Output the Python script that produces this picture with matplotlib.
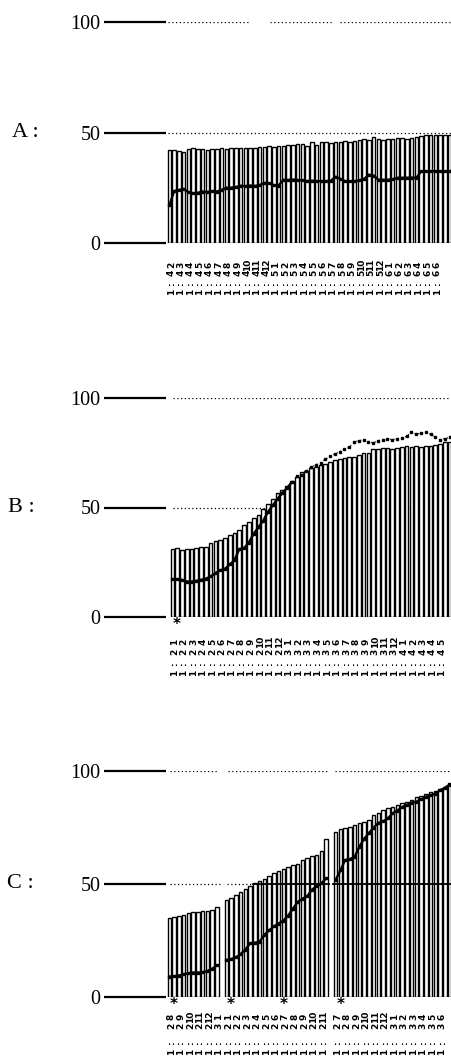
import matplotlib
matplotlib.use("Agg")
import matplotlib.pyplot as plt
from matplotlib.transforms import blended_transform_factory

W, H = 452, 1061

# ---------------- data ----------------
yticks = [0, 50, 100]
panel_names = ["A :", "B :", "C :"]

a_bars = [42.3, 42.0, 41.5, 41.0, 42.5, 42.8, 42.5, 42.5, 42.3, 42.6,
          42.5, 42.8, 42.5, 42.8, 43.0, 43.0, 42.8, 43.2, 43.0, 43.5,
          43.3, 43.8, 43.5, 44.0, 44.0, 44.3, 44.5, 44.8, 45.0, 44.0,
          45.5, 44.5, 45.6, 45.5, 45.3, 45.8, 45.5, 46.0, 45.8, 46.2,
          46.5, 47.0, 46.8, 48.0, 47.0, 46.8, 47.2, 47.0, 47.3, 47.5,
          47.2, 47.5, 47.8, 48.6, 48.8, 48.7, 48.8, 49.0, 48.8, 49.0]
a_line = [17.0, 23.5, 24.0, 24.5, 23.0, 22.5, 22.7, 23.3, 23.0, 23.5,
          23.3, 24.0, 25.0, 25.0, 25.3, 25.9, 25.7, 26.0, 25.8, 26.2,
          27.2, 27.0, 26.2, 26.0, 28.6, 28.5, 28.7, 28.5, 28.3, 28.0,
          28.2, 28.0, 28.0, 28.0, 28.2, 30.0, 29.0, 28.0, 27.9, 28.0,
          28.3, 29.0, 30.9, 30.5, 28.6, 28.6, 28.6, 28.8, 29.5, 29.5,
          29.5, 29.6, 29.5, 32.4, 32.4, 32.5, 32.4, 32.5, 32.4, 32.5]

b_bars = [31.0, 31.5, 30.8, 31.2, 31.2, 31.5, 31.8, 32.0, 34.0, 34.5,
          35.0, 36.0, 37.4, 38.5, 39.5, 42.0, 43.5, 45.0, 46.5, 49.5,
          51.5, 54.0, 56.5, 58.0, 60.0, 62.0, 64.0, 66.0, 66.5, 68.0,
          68.5, 69.4, 70.0, 71.0, 71.5, 72.0, 72.6, 73.0, 73.2, 74.0,
          74.8, 75.0, 76.5, 76.5, 77.0, 77.0, 76.5, 77.0, 77.5, 78.0,
          77.5, 78.0, 77.5, 78.0, 78.0, 78.5, 79.0, 80.0, 80.0]
b_line = [17.3, 17.3, 17.0, 16.2, 16.2, 16.5, 17.0, 17.5, 18.5, 20.0,
          21.3, 22.0, 24.0, 26.0, 31.0, 31.5, 34.0, 38.0, 41.0, 44.0,
          48.0, 51.0, 54.0, 56.5, 59.0, 61.5]
b_upper_start = 26
b_upper = [64.5, 65.0, 66.5, 68.5, 69.5, 70.5, 72.0, 73.5, 74.5, 75.5,
           76.5, 77.5, 80.0, 80.5, 81.0, 80.0, 79.5, 80.5, 81.0, 81.5,
           81.0, 81.5, 81.8, 82.5, 84.5, 83.5, 84.0, 84.5, 83.5, 82.0,
           81.0, 81.5, 82.0]

c_group_start = [0, 12, 35]
c_bars = [
    [35.1, 35.5, 36.0, 36.5, 37.0, 37.5, 37.5, 38.0, 38.0, 38.5, 40.0],
    [43.0, 44.0, 45.0, 46.5, 48.0, 49.0, 50.5, 51.5, 52.2, 53.5, 54.7,
     55.8, 56.5, 57.5, 58.5, 59.0, 60.5, 61.4, 62.3, 63.0, 64.5, 70.0],
    [73.0, 74.5, 75.0, 75.4, 76.0, 77.0, 77.5, 78.5, 80.5, 81.5, 82.7,
     83.5, 84.0, 85.0, 85.7, 86.5, 87.2, 88.5, 89.0, 90.0, 90.5, 91.0,
     92.0, 93.0, 94.5],
]
c_line = [
    [9.0, 9.2, 9.5, 10.0, 10.5, 10.8, 10.8, 11.0, 11.5, 12.5, 14.0],
    [16.4, 16.8, 17.5, 19.0, 21.0, 23.7, 24.0, 24.5, 27.5, 29.5, 31.2,
     32.5, 33.8, 36.0, 39.0, 42.0, 43.5, 44.5, 47.5, 49.0, 50.3, 52.5],
    [51.8, 56.0, 60.6, 61.0, 62.0, 66.5, 70.0, 72.5, 75.0, 77.0, 77.7,
     79.0, 81.3, 82.5, 84.0, 85.0, 86.0, 86.4, 87.5, 88.6, 89.3, 90.0,
     91.5, 92.5, 94.0],
]

b_marks = [1]
c_marks = [1, 13, 24, 36]

a_months = [2, 3, 4, 5, 6, 7, 8, 9, 10, 11, 12, 1, 2, 3, 4, 5, 6, 7, 8, 9,
            10, 11, 12, 1, 2, 3, 4, 5, 6]
a_years = [4] * 11 + [5] * 12 + [6] * 6
b_months = [1, 2, 3, 4, 5, 6, 7, 8, 9, 10, 11, 12, 1, 2, 3, 4, 5, 6, 7, 8,
            9, 10, 11, 12, 1, 2, 3, 4, 5]
b_years = [2] * 12 + [3] * 12 + [4] * 5
c_months = [[8, 9, 10, 11, 12, 1],
            [1, 2, 3, 4, 5, 6, 7, 8, 9, 10, 11],
            [7, 8, 9, 10, 11, 12, 1, 2, 3, 4, 5, 6]]
c_years = [[2, 2, 2, 2, 2, 3],
           [2, 2, 2, 2, 2, 2, 2, 2, 2, 2, 2],
           [2, 2, 2, 2, 2, 2, 3, 3, 3, 3, 3, 3]]

# ---------------- style / layout ----------------
plt.rcParams['font.family'] = ['Liberation Serif', 'DejaVu Serif']
fig = plt.figure(figsize=(W / 100, H / 100), dpi=100)

AX_LEFT = 166
panels = [
    dict(y0=243, y100=22, first=167, pitch=4.75, name_x=12),
    dict(y0=617, y100=398, first=170, pitch=4.78, name_x=8),
    dict(y0=997, y100=771, first=167, pitch=4.75, name_x=7),
]


def make_ax(p, name):
    ax = fig.add_axes([AX_LEFT / W, (H - p['y0']) / H, (W - AX_LEFT) / W,
                       (p['y0'] - p['y100']) / H])
    xmin = -0.5 - (p['first'] - AX_LEFT) / p['pitch']
    xmax = xmin + (W - AX_LEFT) / p['pitch']
    ax.set_xlim(xmin, xmax)
    ax.set_ylim(0, 100)
    for s in ax.spines.values():
        s.set_visible(False)
    ax.set_xticks([])
    ax.set_yticks(yticks)
    ax.set_yticklabels([str(v) for v in yticks])
    ax.tick_params(axis='y', length=45, width=1.6, pad=2, labelsize=14.5,
                   direction='out')
    ax.patch.set_alpha(0)
    fig.text(p['name_x'] / W, 1 - ((p['y0'] + p['y100']) / 2) / H, name,
             fontsize=16, ha='left', va='center')
    return ax, xmin


def px2x(p, xmin, px):
    return xmin + (px - AX_LEFT) / p['pitch']


def dotted(ax, p, xmin, yv, segs):
    for a, b in segs:
        ax.plot([px2x(p, xmin, a), px2x(p, xmin, b)], [yv, yv], color='black',
                lw=0.9, linestyle=(0, (1, 2)), zorder=1)


def draw_bars(ax, xs, hs):
    ax.bar(xs, hs, width=0.78, facecolor='white', edgecolor='black',
           linewidth=1.0, zorder=2)


def draw_line(ax, xs, ys):
    ax.plot(xs, ys, color='black', lw=1.7, marker='s', ms=2.0, zorder=4)


def labels(ax, slots, months, years, offs, height):
    tr = blended_transform_factory(ax.transData, ax.transAxes)
    for s, m, y in zip(slots, months, years):
        for txt, off in zip([str(m), str(y), ':', '1'], offs):
            ax.text(s + 0.4, -off / height, txt, transform=tr, rotation=90,
                    ha='center', va='center', fontsize=6.5, fontweight='bold',
                    family='DejaVu Sans', clip_on=False)


def stars(ax, slots, off, height):
    tr = blended_transform_factory(ax.transData, ax.transAxes)
    for s in slots:
        ax.text(s, -off / height, '*', transform=tr, ha='center', va='center',
                fontsize=11, fontweight='bold', family='DejaVu Sans',
                clip_on=False)


# Panel A
p = panels[0]
ax, xmin = make_ax(p, panel_names[0])
hgt = p['y0'] - p['y100']
dotted(ax, p, xmin, 100, [(168, 250), (270, 333), (340, 452)])
dotted(ax, p, xmin, 50, [(168, 452)])
xa = list(range(len(a_bars)))
draw_bars(ax, xa, a_bars)
draw_line(ax, xa, a_line)
labels(ax, list(range(0, 2 * len(a_months), 2)), a_months, a_years,
       [22, 30, 40, 49], hgt)

# Panel B
p = panels[1]
ax, xmin = make_ax(p, panel_names[1])
hgt = p['y0'] - p['y100']
dotted(ax, p, xmin, 100, [(173, 452)])
dotted(ax, p, xmin, 50, [(173, 452)])
xb = list(range(len(b_bars)))
draw_bars(ax, xb, b_bars)
draw_line(ax, list(range(len(b_line))), b_line)
xu = list(range(b_upper_start, b_upper_start + len(b_upper)))
ax.plot(xu, b_upper, color='black', lw=0.8, linestyle=(0, (1, 2.5)),
        marker='s', ms=1.6, zorder=4)
stars(ax, b_marks, 8, hgt)
labels(ax, list(range(0, 2 * len(b_months), 2)), b_months, b_years,
       [25, 35, 46, 56], hgt)

# Panel C
p = panels[2]
ax, xmin = make_ax(p, panel_names[2])
hgt = p['y0'] - p['y100']
dotted(ax, p, xmin, 100, [(170, 218), (228, 328), (335, 452)])
dotted(ax, p, xmin, 50, [(170, 220), (227, 452)])
for st, hs, ls, ms_, ys_ in zip(c_group_start, c_bars, c_line, c_months, c_years):
    xs = list(range(st, st + len(hs)))
    draw_bars(ax, xs, hs)
    over = [x for x, h in zip(xs, hs) if h > 50]
    for x in over:
        ax.plot([x - 0.5, x + 0.5], [50, 50], color='black', lw=1.3, zorder=3)
    draw_line(ax, xs, ls)
    labels(ax, list(range(st, st + 2 * len(ms_), 2)), ms_, ys_,
           [20, 29, 45, 55], hgt)
stars(ax, c_marks, 7, hgt)

fig.savefig('out.png', dpi=100)
